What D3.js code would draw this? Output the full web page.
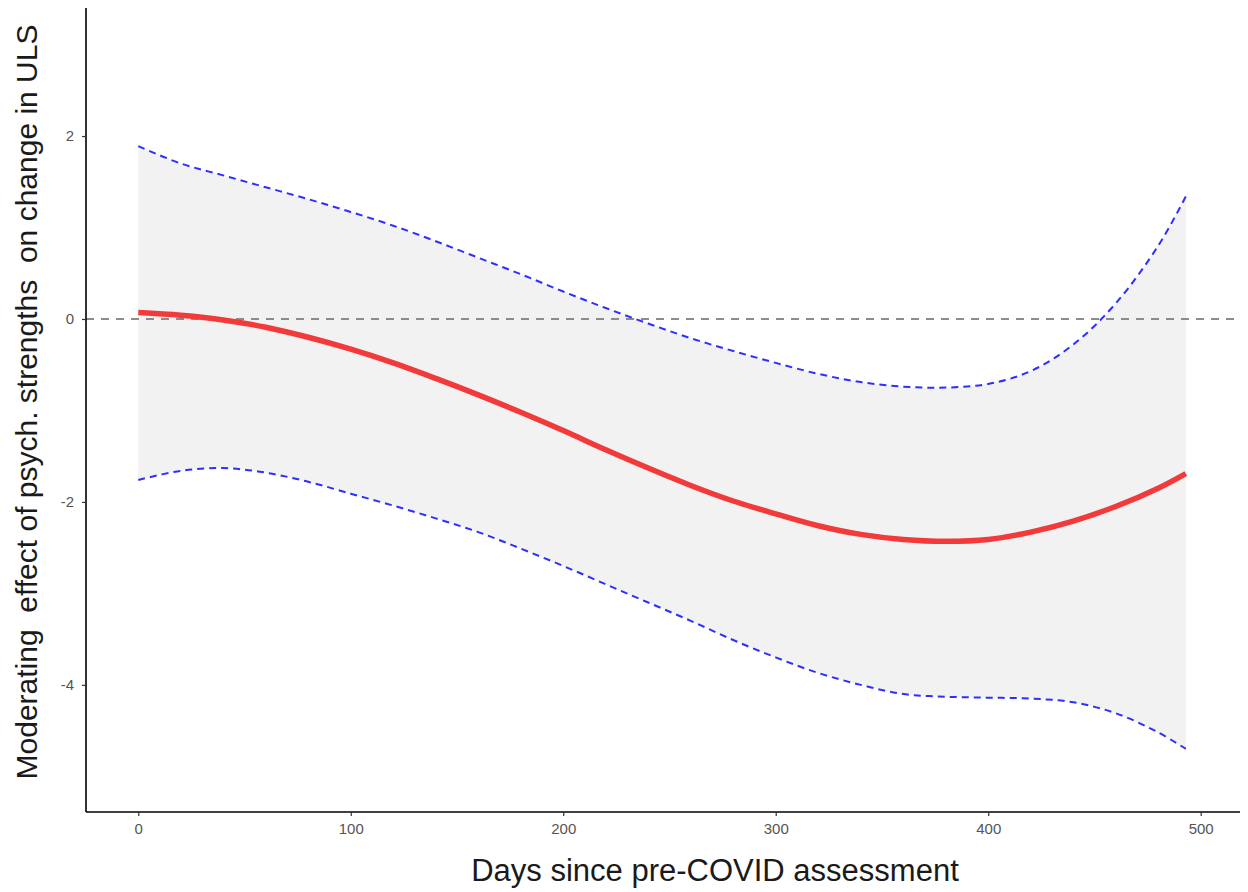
<!DOCTYPE html>
<html><head><meta charset="utf-8">
<script src="https://cdn.jsdelivr.net/npm/d3@7"></script>
<style>body{margin:0;background:#fff}svg{display:block}</style>
</head><body>
<svg id="c" width="1248" height="892"></svg>
<script>
const days  = [0,20,40,60,80,100,120,140,160,180,200,220,240,260,280,300,320,340,360,380,400,420,440,460,480,493];
const fit   = [0.07,0.04,-0.01,-0.09,-0.20,-0.33,-0.48,-0.65,-0.83,-1.02,-1.22,-1.43,-1.63,-1.82,-1.99,-2.13,-2.26,-2.355,-2.41,-2.43,-2.41,-2.33,-2.21,-2.05,-1.85,-1.69];
const upper = [1.89,1.70,1.57,1.44,1.31,1.17,1.02,0.85,0.67,0.49,0.30,0.12,-0.05,-0.21,-0.35,-0.48,-0.60,-0.69,-0.74,-0.75,-0.71,-0.57,-0.28,0.17,0.80,1.34];
const lower = [-1.76,-1.66,-1.63,-1.68,-1.78,-1.91,-2.04,-2.18,-2.33,-2.51,-2.70,-2.90,-3.10,-3.30,-3.51,-3.70,-3.87,-4.00,-4.10,-4.13,-4.14,-4.15,-4.19,-4.31,-4.52,-4.70];
const xTicks = [0,100,200,300,400,500];
const yTicks = [-4,-2,0,2];
const xTitle = "Days since pre-COVID assessment";
const yTitle = "Moderating  effect of psych. strengths  on change in ULS";

const svg = d3.select("#c");
const L = 86, R = 1240, T = 8, B = 812;
const x = d3.scaleLinear().domain([-24.6, 518.5]).range([L, R]);
const y = d3.scaleLinear().domain([-5.39, 3.40]).range([B, T]);
const data = days.map((d,i)=>({d, f:fit[i], u:upper[i], l:lower[i]}));
const cv = d3.curveCatmullRom.alpha(0.5);

svg.append("path").datum(data)
  .attr("d", d3.area().curve(cv).x(p=>x(p.d)).y0(p=>y(p.l)).y1(p=>y(p.u)))
  .attr("fill", "#f2f2f2");

svg.append("line").attr("x1", L).attr("x2", R).attr("y1", y(0)).attr("y2", y(0))
  .attr("stroke", "#8c8c8c").attr("stroke-width", 2).attr("stroke-dasharray", "8,7");

const ln = k => d3.line().curve(cv).x(p=>x(p.d)).y(p=>y(p[k]));
["u","l"].forEach(k=>{
  svg.append("path").datum(data).attr("d", ln(k)).attr("fill","none")
    .attr("stroke","#2e2eff").attr("stroke-width",2).attr("stroke-dasharray","7,5");
});
svg.append("path").datum(data).attr("d", ln("f")).attr("fill","none")
  .attr("stroke","#f23a3a").attr("stroke-width",5.5).attr("stroke-linecap","butt");

const xa = svg.append("g").attr("transform",`translate(0,${B})`)
  .call(d3.axisBottom(x).tickValues(xTicks).tickSize(4).tickPadding(7).tickFormat(d3.format("d")));
const ya = svg.append("g").attr("transform",`translate(${L},0)`)
  .call(d3.axisLeft(y).tickValues(yTicks).tickSize(4).tickPadding(8).tickFormat(d=>d<0?"-"+Math.abs(d):d));
[xa,ya].forEach(a=>{
  a.select(".domain").attr("stroke","#000").attr("stroke-width",1.6);
  a.selectAll(".tick line").attr("stroke","#333").attr("stroke-width",1.2);
  a.selectAll(".tick text").attr("fill","#555").attr("font-family","Liberation Sans, Arial, sans-serif").attr("font-size",15);
});
xa.select(".domain").attr("d", `M${L},0H${R}`);
ya.select(".domain").attr("d", `M0,${T}V${B}`);

svg.append("text").attr("x", 715).attr("y", 881).attr("text-anchor","middle")
  .attr("font-family","Liberation Sans, Arial, sans-serif").attr("font-size",31).attr("fill","#1a1a1a")
  .text(xTitle);
svg.append("text").attr("transform","translate(37,402) rotate(-90)").attr("text-anchor","middle")
  .attr("font-family","Liberation Sans, Arial, sans-serif").attr("font-size",30).attr("fill","#1a1a1a")
  .style("white-space","pre")
  .text(yTitle);
</script>
</body></html>
